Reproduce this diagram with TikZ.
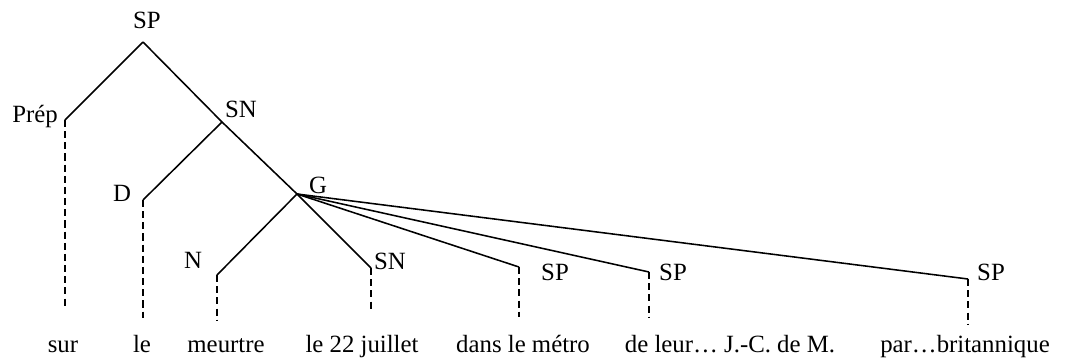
\documentclass[tikz,border=0pt]{standalone}
\usepackage{fontspec}
\setmainfont{Liberation Serif}
\usetikzlibrary{positioning}

\begin{document}
\begin{tikzpicture}[x=0.17mm,y=-0.17mm,
    branch/.style={line width=0.75pt},
    leaf/.style={line width=0.55pt,dash pattern=on 3.4pt off 2pt},
    cat/.style={anchor=base,inner sep=0pt,font=\fontsize{12}{14}\selectfont},
    word/.style={anchor=base,inner sep=0pt,font=\fontsize{12}{14}\selectfont}]
  \useasboundingbox (0,0) rectangle (1065,361);
  % branching points of the tree
  \coordinate (sp)   at (143,42);
  \coordinate (prep) at (65,120);
  \coordinate (sn)   at (222,122);
  \coordinate (d)    at (143,200);
  \coordinate (g)    at (297,194);
  \coordinate (n)    at (217,275);
  \coordinate (snb)  at (371,268);
  \coordinate (spa)  at (519,267);
  \coordinate (spb)  at (649,272);
  \coordinate (spc)  at (968,279);
  % category labels
  \node[cat] (spT)   at (147,28)  {SP};
  \node[cat] (prepT) at (35,122)  {Prép};
  \node[cat] (snT)   at (241,117) {SN};
  \node[cat] (gT)    at (318,193) {G};
  \node[cat] (dT)    at (122,201) {D};
  \node[cat] (nT)    at (193,268) {N};
  \node[cat] (snbT)  at (390,269) {SN};
  \node[cat] (spaT)  at (555,280) {SP};
  \node[cat] (spbT)  at (673,280) {SP};
  \node[cat] (spcT)  at (991,280) {SP};
  % branches
  \foreach \a/\b in {sp/prep,sp/sn,sn/d,sn/g,g/n,g/snb,g/spa,g/spb,g/spc}
    \draw[branch] (\a) -- (\b);
  % dotted descent to the words
  \foreach \p/\e in {prep/308,d/318,n/320,snb/312,spa/317,spb/318,spc/325}{
    \coordinate (\p-end) at (\p |- 0,\e);
    \draw[leaf] (\p) -- (\p-end);
  }
  % the words
  \node[word] (w1) at (63,352)  {sur};
  \node[word] (w2) at (142,352) {le};
  \node[word] (w3) at (226,352) {meurtre};
  \node[word] (w4) at (362,352) {le 22 juillet};
  \node[word] (w5) at (523,352) {dans le métro};
  \node[word] (w6) at (730,352) {de leur… J.-C. de M.};
  \node[word] (w7) at (965,352) {par…britannique};
\end{tikzpicture}
\end{document}
